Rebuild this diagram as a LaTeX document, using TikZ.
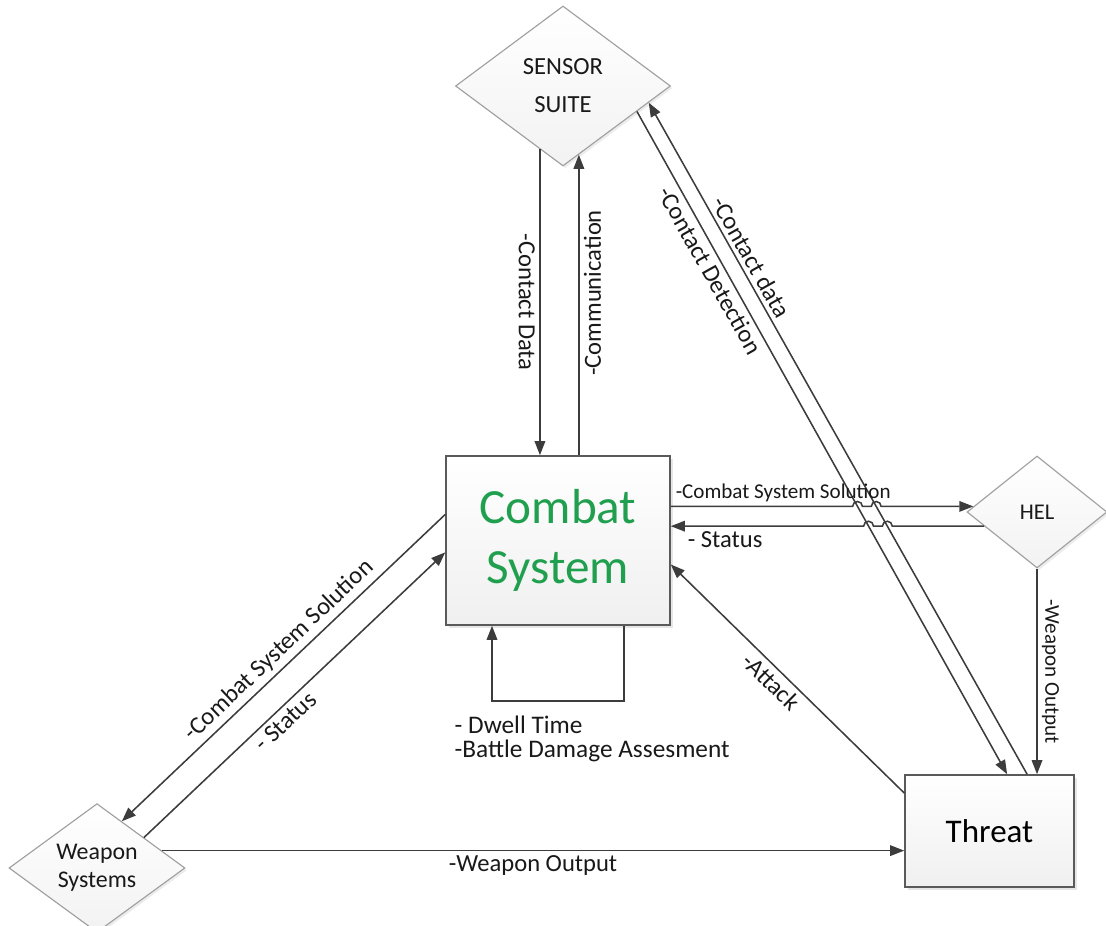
\documentclass[tikz,border=0pt]{standalone}
\usepackage{fontspec}
\setmainfont{Carlito}
\usetikzlibrary{shapes.geometric,arrows.meta,calc,intersections,shadows}
\definecolor{linegray}{RGB}{60,60,60}
\definecolor{boxgray}{RGB}{90,90,90}
\definecolor{csgreen}{RGB}{32,160,78}

\begin{document}
\begin{tikzpicture}[
  >={Triangle[length=10pt,width=7.5pt]},
  arr/.style={draw=linegray, line width=1.1pt},
  lbl/.style={font=\fontsize{17.5}{21}\selectfont, inner sep=3pt, text=black!90},
  small/.style={font=\fontsize{15}{18}\selectfont, inner sep=3pt, text=black!90},
  block/.style={rectangle, draw=boxgray, line width=1.1pt, top color=white, bottom color=gray!12,
    drop shadow={shadow xshift=2pt, shadow yshift=-2pt, opacity=0.2}},
  dmd/.style={diamond, draw=gray!75, line width=0.8pt, top color=white, bottom color=gray!10,
    inner sep=0pt, align=center, text=black!90,
    drop shadow={shadow xshift=1.5pt, shadow yshift=-1.5pt, opacity=0.15}}
]
\useasboundingbox (0,0) rectangle (27.65,23.15);

% nodes
\node[dmd, minimum width=5.375cm, minimum height=4cm, font=\fontsize{17.5}{27}\selectfont] (sensor) at (14.075,21) {SENSOR\\SUITE};
\node[dmd, minimum width=3.5cm, minimum height=2.8cm, font=\fontsize{16}{19}\selectfont] (hel) at (25.925,10.35) {HEL};
\node[dmd, minimum width=4.4cm, minimum height=2.8cm, font=\fontsize{17}{20}\selectfont] (ws) at (2.425,1.45) {Weapon\\Systems};
\node[block, minimum width=5.6cm, minimum height=4.225cm, align=center, text=csgreen, font=\fontsize{35}{42.5}\selectfont] (combat) at (13.95,9.6375) {Combat\\System};
\node[block, minimum width=4.225cm, minimum height=2.8cm, font=\fontsize{23.5}{28}\selectfont] (threat) at (24.7375,2.375) {Threat};

% sensor suite and combat system
\draw[arr,->] (sensor.250) -- (sensor.250 |- combat.north) node[lbl, midway, rotate=-90, anchor=north] {-Contact Data};
\draw[arr,->] (sensor.283 |- combat.north) -- (sensor.283) node[lbl, pos=0.54, rotate=90, anchor=north] {-Communication};

% sensor suite and threat
\draw[arr,->, name path=det] (sensor.341) -- ($(threat.north)+(0.44,0)$) node[lbl, pos=0.23, sloped, below] {-Contact Detection};
\draw[arr,<-, name path=cdat] (sensor.349) -- ($(threat.north)+(0.94,0)$) node[lbl, pos=0.24, sloped, above] {-Contact data};

% HEL, with line hops
\path[name path=cssh] (combat.east |- hel.175) -- (hel.175);
\path[name path=sth] (hel.195) -- (hel.195 -| combat.east);
\path[name intersections={of=det and cssh, by=h1}];
\path[name intersections={of=cdat and cssh, by=h2}];
\path[name intersections={of=det and sth, by=h3}];
\path[name intersections={of=cdat and sth, by=h4}];
\draw[arr,->] (combat.east |- hel.175) node[small, anchor=south west] {-Combat System Solution}
  -- ($(h1)+(-3.5pt,0pt)$) arc[start angle=180, end angle=0, radius=3.5pt]
  -- ($(h2)+(-3.5pt,0pt)$) arc[start angle=180, end angle=0, radius=3.5pt] -- (hel.175);
\draw[arr,->] (hel.195)
  -- ($(h4)+(3.5pt,0pt)$) arc[start angle=0, end angle=180, radius=3.5pt]
  -- ($(h3)+(3.5pt,0pt)$) arc[start angle=0, end angle=180, radius=3.5pt]
  -- (hel.195 -| combat.east) node[lbl, anchor=north west, xshift=0.3cm] {- Status};
\draw[arr,->] (hel.south) -- (hel.south |- threat.north) node[small, midway, rotate=-90, anchor=south] {-Weapon Output};

% weapon systems
\draw[arr,<-] (ws.62) -- (combat.167) node[lbl, pos=0.52, sloped, above] {-Combat System Solution};
\draw[arr,->] (ws.33) -- (combat.186) node[lbl, pos=0.44, sloped, below] {- Status};
\draw[arr,->] (ws.15) -- (ws.15 -| threat.west) node[lbl, midway, below] {-Weapon Output};

% threat attack
\draw[arr,<-] (combat.348) -- (threat.156) node[lbl, pos=0.47, sloped, below] {-Attack};

% self loop
\draw[arr,->] ($(combat.south)+(1.65,0)$) -- ++(0,-1.875) -| ($(combat.south)+(-1.65,0)$);
\node[lbl, align=left, anchor=north west, font=\fontsize{18}{16.5}\selectfont] (dwell) at ($(combat.south west)+(0.125,-2.15)$) {- Dwell Time\\-Battle Damage Assesment};
\end{tikzpicture}
\end{document}
